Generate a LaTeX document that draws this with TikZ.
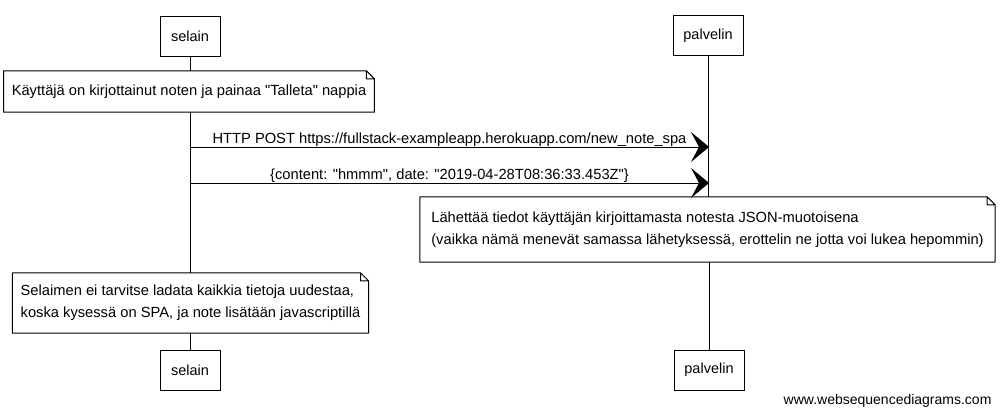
\documentclass[tikz,border=0pt]{standalone}
\usepackage{fontspec}
\setmainfont{Liberation Sans}[Ligatures=TeXOff]
\usetikzlibrary{arrows.meta}
\tikzset{
  actor/.style={draw, line width=1pt, fill=white, minimum height=40pt, inner xsep=9pt, font=\fontsize{14.5}{17}\selectfont},
  notebox/.style={fill=white, align=left, inner xsep=8pt, font=\fontsize{14.7}{22}\selectfont},
  notepath/.style={line width=1pt, line join=round},
  lifeline/.style={line width=0.8pt},
  msg/.style={line width=1pt, -{Stealth[length=18pt,width=30pt,inset=8pt]}},
  msglabel/.style={above, inner sep=0pt, yshift=-0.5pt, font=\fontsize{14.7}{17}\selectfont},
}

\begin{document}
\begin{tikzpicture}[x=1pt,y=-1pt]%
\useasboundingbox (0,0) rectangle (1002,415);%
% participants
\node[actor, minimum width=60pt] (selTop) at (190,36) {selain};%
\node[actor, minimum width=70pt] (palTop) at (708,35.5) {palvelin};%
\node[actor, minimum width=60pt] (selBot) at (190,370) {selain};%
\node[actor, minimum width=70pt] (palBot) at (709,370) {palvelin};%
% notes
\node[notebox, minimum width=358pt, minimum height=41pt] (noteA) at (189,91.5) {K\"aytt\"aj\"a on kirjottainut noten ja painaa "Talleta" nappia};%
\node[notebox, minimum width=575pt, minimum height=65pt] (noteB) at (707.5,229.5) {L\"ahett\"a\"a tiedot k\"aytt\"aj\"an kirjoittamasta notesta JSON-muotoisena\\(vaikka n\"am\"a menev\"at samassa l\"ahetyksess\"a, erottelin ne jotta voi lukea hepommin)};%
\node[notebox, minimum width=355pt, minimum height=60pt] (noteC) at (190.5,303) {Selaimen ei tarvitse ladata kaikkia tietoja uudestaa,\\koska kysess\"a on SPA, ja note lis\"at\"a\"an javascriptill\"a};%
\foreach \n in {noteA,noteB,noteC}
  \draw[notepath] (\n.south west) -- (\n.north west) -- ([xshift=-8pt]\n.north east) -- ([yshift=-8pt]\n.north east) -- (\n.south east) -- cycle
    ([xshift=-8pt]\n.north east) |- ([yshift=-8pt]\n.north east);%
% lifelines
\draw[lifeline] (selTop.south) -- (noteA.north -| selTop.south);%
\draw[lifeline] (noteA.south -| selTop.south) -- (noteC.north -| selTop.south);%
\draw[lifeline] (noteC.south -| selTop.south) -- (selBot.north);%
\draw[lifeline] (palTop.south) -- (noteB.north -| palTop.south);%
\draw[lifeline] (noteB.south -| palBot.north) -- (palBot.north);%
% messages
\coordinate (selPost) at (190,147);%
\coordinate (palPost) at (709,147);%
\coordinate (selData) at (190,183);%
\coordinate (palData) at (709,183);%
\draw[msg] (selPost) -- node[msglabel] {HTTP POST https://fullstack-exampleapp.herokuapp.com/new\_note\_spa} (palPost);%
\draw[msg] (selData) -- node[msglabel] {\{content: "hmmm", date: "2019-04-28T08:36:33.453Z"\}} (palData);%
\node[anchor=east, font=\fontsize{14}{17}\selectfont] (credit) at (995,401) {www.websequencediagrams.com};%
\end{tikzpicture}
\end{document}
